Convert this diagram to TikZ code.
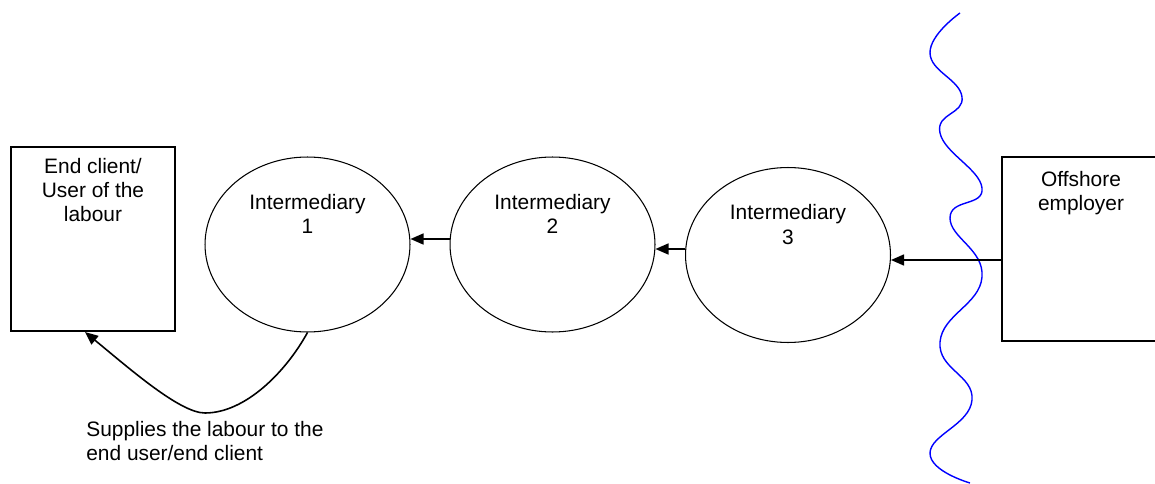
\documentclass[tikz,border=0pt]{standalone}
\usepackage{fontspec}
\setmainfont{Liberation Sans}
\usepackage{tikz}
\usetikzlibrary{positioning,shapes.geometric,arrows.meta,calc}
\tikzset{
  party/.style={draw, line width=1.2pt, minimum width=3.28cm, minimum height=3.68cm, inner sep=0pt},
  inter/.style={ellipse, draw, line width=0.6pt, minimum width=4.1cm, minimum height=3.5cm, inner sep=0pt},
  txt/.style={align=center, inner sep=0pt, font=\fontsize{11.9}{13.7}\selectfont},
  flow/.style={-{Triangle[length=0.26cm,width=0.22cm]}, line width=0.9pt},
}

\begin{document}
\begin{tikzpicture}[x=0.02cm, y=-0.02cm]
\useasboundingbox (0,0) rectangle (1155,483);
% parties and intermediaries
\node[party] (client) at (93,239) {};
\node[party, minimum width=3.16cm] (offshore) at (1081,249) {};
\node[inter] (int1) at (307.5,244.5) {};
\node[inter] (int2) at (552.5,244.5) {};
\node[inter] (int3) at (788,255) {};
\node[txt, below=0.24cm of client.north] (clientlbl) {End client/\\User of the\\labour};
\node[txt, below=0.3cm of offshore.north] (offshorelbl) {Offshore\\employer};
\node[txt, below=0.75cm of int1.north] (int1lbl) {Intermediary\\1};
\node[txt, below=0.75cm of int2.north] (int2lbl) {Intermediary\\2};
\node[txt, below=0.75cm of int3.north] (int3lbl) {Intermediary\\3};
% border
\draw[blue, line width=0.8pt] plot[smooth, tension=0.8] coordinates {(960,13) (930,53) (962,97) (940,133) (982,188) (950,218) (982,277) (940,342) (972,400) (930,453) (970,483)};
% chain
\draw[flow] ([yshift=-0.22cm]offshore.west) -- ([yshift=-0.1cm]int3.east);
\draw[flow] ([yshift=0.12cm]int3.west) -- ([yshift=-0.09cm]int2.east);
\draw[flow] ([yshift=0.11cm]int2.west) -- ([yshift=0.11cm]int1.east);
\coordinate (dip) at (205,413);
\draw[flow] (int1.south) .. controls +(-22,40) and +(40,0) .. (dip) .. controls +(-25,0) and +(45,37) .. ([xshift=-0.16cm]client.south);
\node[txt, align=left, anchor=north west] (supplies) at (86,421) {Supplies the labour to the\\end user/end client};
\end{tikzpicture}
\end{document}
